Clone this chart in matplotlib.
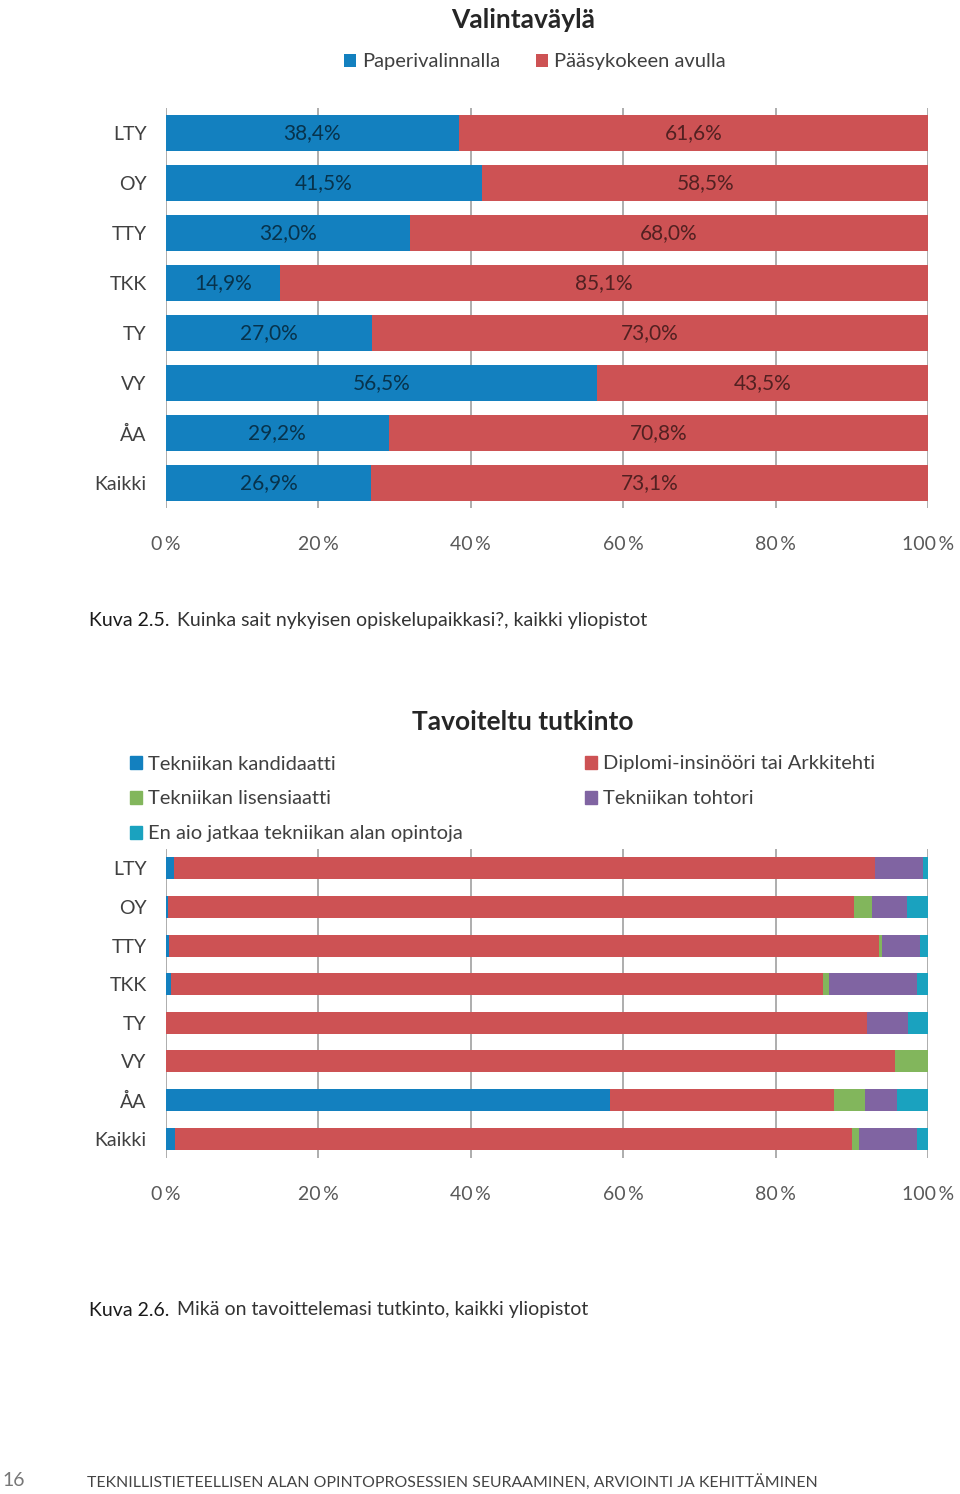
import matplotlib.pyplot as plt
from matplotlib.patches import Patch
import numpy as np

plt.rcParams['font.family'] = ['Lato', 'DejaVu Sans']

# data
yliopistot = ['LTY', 'OY', 'TTY', 'TKK', 'TY', 'VY', 'ÅA', 'Kaikki']

# Kuva 2.5 - valintaväylä
paperi = [38.4, 41.5, 32.0, 14.9, 27.0, 56.5, 29.2, 26.9]
paasykoe = [61.6, 58.5, 68.0, 85.1, 73.0, 43.5, 70.8, 73.1]

# Kuva 2.6 - tavoiteltu tutkinto (luettu kuvasta)
kandi = [1.1, 0.3, 0.4, 0.7, 0.0, 0.0, 58.3, 1.2]
di = [91.9, 90.0, 93.2, 85.5, 92.0, 95.7, 29.3, 88.8]
lisensiaatti = [0.0, 2.3, 0.4, 0.8, 0.0, 4.3, 4.1, 0.9]
tohtori = [6.4, 4.6, 4.9, 11.6, 5.4, 0.0, 4.2, 7.7]
ei_jatka = [0.6, 2.8, 1.1, 1.4, 2.6, 0.0, 4.1, 1.4]

xticks = [0, 20, 40, 60, 80, 100]

sininen = '#1380bf'
punainen = '#cd5254'
vihrea = '#82b65c'
violetti = '#8064a2'
syaani = '#1aa2bf'
tekstivari = '#404040'

W, H = 960, 1494
fig = plt.figure(figsize=(W / 100, H / 100), dpi=100)


def axes_px(left, top, right, bottom):
    return fig.add_axes([left / W, 1 - bottom / H, (right - left) / W, (bottom - top) / H])


def muotoile(ax):
    ax.set_xlim(0, 100)
    ax.set_ylim(len(yliopistot) - 0.5, -0.5)
    ax.set_xticks(xticks)
    ax.set_xticklabels([f'{t}\u2009%' for t in xticks], fontsize=14, color='#595959')
    ax.set_yticks(range(len(yliopistot)))
    ax.set_yticklabels(yliopistot, fontsize=14, color=tekstivari)
    ax.tick_params(axis='x', length=0, pad=20)
    ax.tick_params(axis='y', length=0, pad=14)
    for s in ax.spines.values():
        s.set_visible(False)
    ax.grid(axis='x', color='#a0a0a0', lw=1.2)
    ax.set_axisbelow(True)


# ---- Kuva 2.5 ----
ax1 = axes_px(166, 108, 928, 508)
y = np.arange(len(yliopistot))
b1 = ax1.barh(y, paperi, height=0.72, color=sininen, label='Paperivalinnalla')
b2 = ax1.barh(y, paasykoe, left=paperi, height=0.72, color=punainen, label='Pääsykokeen avulla')
for i in range(len(yliopistot)):
    ax1.text(paperi[i] / 2, i, f'{paperi[i]:.1f}%'.replace('.', ','), ha='center', va='center',
             fontsize=15, color='black', alpha=0.6)
    ax1.text(paperi[i] + paasykoe[i] / 2, i, f'{paasykoe[i]:.1f}%'.replace('.', ','), ha='center',
             va='center', fontsize=15, color='black', alpha=0.6)
muotoile(ax1)

fig.text(523 / W, 1 - 20 / H, 'Valintaväylä', ha='center', va='center', fontsize=19,
         fontweight='bold', color='#262626')
fig.legend(handles=[b1, b2], loc='center', bbox_to_anchor=(535 / W, 1 - 62 / H), ncol=2,
           frameon=False, fontsize=14.5, handlelength=0.6, handleheight=0.6, handletextpad=0.3,
           columnspacing=1.8, labelcolor=tekstivari)

fig.text(89 / W, 1 - 620 / H, 'Kuva 2.5.', fontsize=14, color='#1a1a1a', va='center')
fig.text(177 / W, 1 - 620 / H, 'Kuinka sait nykyisen opiskelupaikkasi?, kaikki yliopistot',
         fontsize=14, color='#333333', va='center')

# ---- Kuva 2.6 ----
ax2 = axes_px(166, 849, 928, 1158)
sarjat = [kandi, di, lisensiaatti, tohtori, ei_jatka]
varit = [sininen, punainen, vihrea, violetti, syaani]
vasen = np.zeros(len(yliopistot))
for arvot, vari in zip(sarjat, varit):
    ax2.barh(y, arvot, left=vasen, height=0.57, color=vari)
    vasen = vasen + np.array(arvot)
muotoile(ax2)

fig.text(523 / W, 1 - 722 / H, 'Tavoiteltu tutkinto', ha='center', va='center', fontsize=19,
         fontweight='bold', color='#262626')
selitteet = [
    ('Tekniikan kandidaatti', sininen, 130, 764),
    ('Tekniikan lisensiaatti', vihrea, 130, 799),
    ('En aio jatkaa tekniikan alan opintoja', syaani, 130, 834),
    ('Diplomi-insinööri tai Arkkitehti', punainen, 585, 764),
    ('Tekniikan tohtori', violetti, 585, 799),
]
for teksti, vari, x0, y0 in selitteet:
    fig.legend(handles=[Patch(color=vari, label=teksti)], loc='center left',
               bbox_to_anchor=(x0 / W - 0.019, 1 - y0 / H), frameon=False, fontsize=14.5,
               handlelength=0.6, handleheight=0.6, handletextpad=0.3, labelcolor=tekstivari)

fig.text(89 / W, 1 - 1310 / H, 'Kuva 2.6.', fontsize=14, color='#1a1a1a', va='center')
fig.text(177 / W, 1 - 1310 / H, 'Mikä on tavoittelemasi tutkinto, kaikki yliopistot',
         fontsize=14, color='#333333', va='center')

# alatunniste
fig.text(2 / W, 1 - 1481 / H, '16', fontsize=14, color='#777777', va='center')
fig.text(87 / W, 1 - 1482 / H,
         'TEKNILLISTIETEELLISEN ALAN OPINTOPROSESSIEN SEURAAMINEN, ARVIOINTI JA KEHITTÄMINEN',
         fontsize=11.4, color='#444444', va='center')

fig.savefig('out.png', dpi=100)
